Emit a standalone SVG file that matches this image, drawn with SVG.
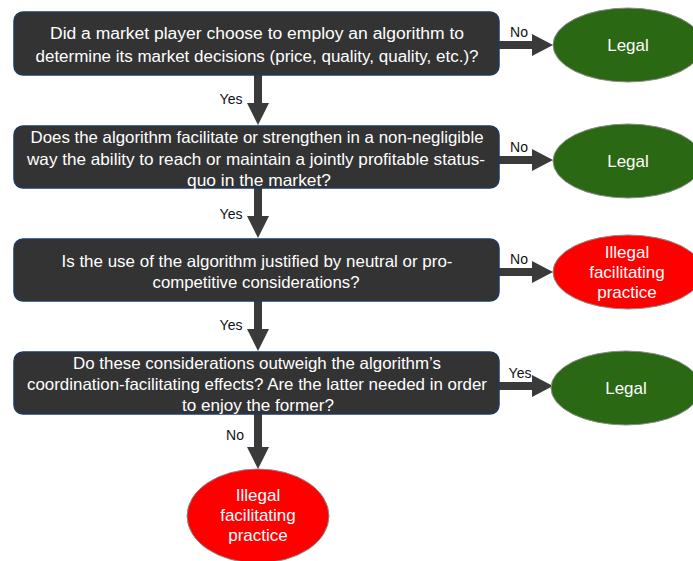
<svg xmlns="http://www.w3.org/2000/svg" width="693" height="561" viewBox="0 0 693 561">
  <style>
    .q { fill: #333333; stroke: #1f3a60; stroke-width: 1.5; }
    .qt { fill: #ffffff; font-family: "Liberation Sans Narrow", "Liberation Sans", Arial, sans-serif; font-size: 16.5px; text-anchor: middle; }
    .qt1 { fill: #ffffff; font-family: "Liberation Sans", Arial, sans-serif; font-size: 16px; text-anchor: middle; }
    .legal { fill: #2a6813; stroke: #8a8a8a; stroke-width: 1; }
    .illegal { fill: #ff0000; stroke: #8a8a8a; stroke-width: 1; }
    .rt { fill: #ffffff; font-family: "Liberation Sans Narrow", "Liberation Sans", Arial, sans-serif; font-size: 17px; text-anchor: middle; }
    .lbl { fill: #111111; font-family: "Liberation Sans Narrow", "Liberation Sans", Arial, sans-serif; font-size: 14px; text-anchor: middle; }
    .arrow { fill: #3a3a3a; }
  </style>

  <!-- connectors: block arrows with Yes/No labels -->
  <g id="connectors">
    <!-- vertical arrows between questions and to the final outcome -->
    <polygon class="arrow" points="254,75 262,75 262,103 269,103 258,125 247,103 254,103"/>
    <polygon class="arrow" points="254,188 262,188 262,216 269,216 258,238 247,216 254,216"/>
    <polygon class="arrow" points="254,301 262,301 262,329 269,329 258,351 247,329 254,329"/>
    <polygon class="arrow" points="254,414 262,414 262,447 269,447 258,469 247,447 254,447"/>
    <text class="lbl" x="231" y="104">Yes</text>
    <text class="lbl" x="231" y="219">Yes</text>
    <text class="lbl" x="231" y="330">Yes</text>
    <text class="lbl" x="235" y="440">No</text>

    <!-- horizontal arrows to outcomes -->
    <polygon class="arrow" points="499,41 532,41 532,34 553,45 532,56 532,49 499,49"/>
    <polygon class="arrow" points="499,156 532,156 532,149 553,160 532,171 532,164 499,164"/>
    <polygon class="arrow" points="499,268 532,268 532,261 553,272 532,283 532,276 499,276"/>
    <polygon class="arrow" points="499,382 532,382 532,375 553,386 532,397 532,390 499,390"/>
    <text class="lbl" x="519" y="37">No</text>
    <text class="lbl" x="519" y="152">No</text>
    <text class="lbl" x="519" y="264">No</text>
    <text class="lbl" x="520" y="378">Yes</text>
  </g>

  <!-- question 1 -->
  <g id="q1">
    <rect class="q" x="14" y="12" width="485" height="63" rx="9"/>
    <text class="qt1" x="257" y="39" textLength="414" lengthAdjust="spacingAndGlyphs">Did a market player choose to employ an algorithm to</text>
    <text class="qt1" x="257" y="62" textLength="443" lengthAdjust="spacingAndGlyphs">determine its market decisions (price, quality, quality, etc.)?</text>
  </g>

  <!-- question 2 -->
  <g id="q2">
    <rect class="q" x="14" y="126" width="485" height="62" rx="9"/>
    <text class="qt" x="257" y="143" textLength="453" lengthAdjust="spacingAndGlyphs">Does the algorithm facilitate or strengthen in a non-negligible</text>
    <text class="qt" x="256" y="165" textLength="458" lengthAdjust="spacingAndGlyphs">way the ability to reach or maintain a jointly profitable status-</text>
    <text class="qt" x="259" y="186" textLength="144" lengthAdjust="spacingAndGlyphs">quo in the market?</text>
  </g>

  <!-- question 3 -->
  <g id="q3">
    <rect class="q" x="14" y="239" width="485" height="62" rx="9"/>
    <text class="qt" x="257" y="267" textLength="391" lengthAdjust="spacingAndGlyphs">Is the use of the algorithm justified by neutral or pro-</text>
    <text class="qt" x="256" y="288" textLength="207" lengthAdjust="spacingAndGlyphs">competitive considerations?</text>
  </g>

  <!-- question 4 -->
  <g id="q4">
    <rect class="q" x="14" y="352" width="485" height="62" rx="9"/>
    <text class="qt" x="257" y="369" textLength="368" lengthAdjust="spacingAndGlyphs">Do these considerations outweigh the algorithm’s</text>
    <text class="qt" x="257" y="390" textLength="460" lengthAdjust="spacingAndGlyphs">coordination-facilitating effects? Are the latter needed in order</text>
    <text class="qt" x="258" y="411" textLength="152" lengthAdjust="spacingAndGlyphs">to enjoy the former?</text>
  </g>

  <!-- outcomes -->
  <g id="out1">
    <ellipse class="legal" cx="628" cy="45" rx="75" ry="37"/>
    <text class="rt" x="628" y="51">Legal</text>
  </g>
  <g id="out2">
    <ellipse class="legal" cx="628" cy="161" rx="75" ry="37"/>
    <text class="rt" x="628" y="167">Legal</text>
  </g>
  <g id="out3">
    <ellipse class="illegal" cx="628" cy="272" rx="75" ry="37"/>
    <text class="rt" x="627" y="258">Illegal</text>
    <text class="rt" x="627" y="278">facilitating</text>
    <text class="rt" x="627" y="298">practice</text>
  </g>
  <g id="out4">
    <ellipse class="legal" cx="626" cy="388" rx="75" ry="37"/>
    <text class="rt" x="626" y="394">Legal</text>
  </g>
  <g id="out5">
    <ellipse class="illegal" cx="258" cy="516" rx="71" ry="47"/>
    <text class="rt" x="258" y="501">Illegal</text>
    <text class="rt" x="258" y="521">facilitating</text>
    <text class="rt" x="258" y="541">practice</text>
  </g>
</svg>
